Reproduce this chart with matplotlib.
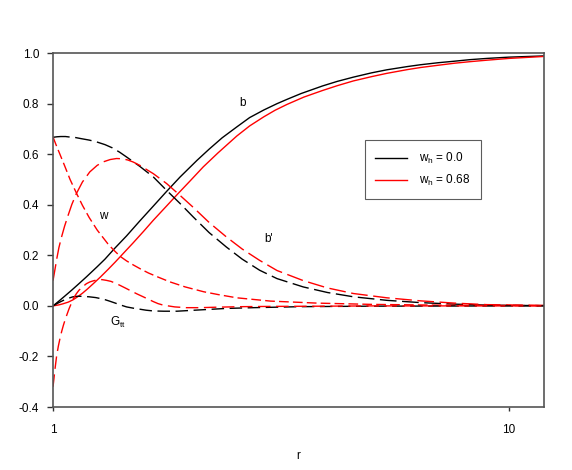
import matplotlib
matplotlib.use('Agg')
import matplotlib.pyplot as plt
from matplotlib.ticker import FixedLocator, NullLocator, FixedFormatter

plt.rcParams['font.family'] = ['Liberation Sans', 'DejaVu Sans']
plt.rcParams['font.size'] = 8.5

# b (solid)
r_b0 = [1, 1.03, 1.06, 1.1, 1.14, 1.184, 1.25, 1.3, 1.366, 1.45, 1.55, 1.66, 1.775, 1.9, 2.07, 2.2,
        2.35, 2.53, 2.7, 2.9, 3.1, 3.26, 3.5, 3.9, 4.2, 4.56, 5.0, 5.4, 6.0, 6.4, 7.0, 7.6, 8.2, 8.95, 10, 12]
b0 = [0, 0.019, 0.038, 0.063, 0.088, 0.115, 0.155, 0.185, 0.228, 0.277, 0.336, 0.395, 0.453, 0.51, 0.576,
      0.62, 0.665, 0.708, 0.745, 0.775, 0.80, 0.817, 0.84, 0.87, 0.888, 0.905, 0.922, 0.934, 0.947, 0.954,
      0.962, 0.968, 0.974, 0.979, 0.984, 0.989]
r_b1 = [1, 1.03, 1.05, 1.08, 1.106, 1.13, 1.16, 1.19, 1.224, 1.27, 1.32, 1.37, 1.425, 1.5, 1.58, 1.66,
        1.77, 1.88, 2.0, 2.136, 2.3, 2.53, 2.7, 2.9, 3.07, 3.26, 3.55, 3.9, 4.2, 4.56, 5.0, 5.4, 6.0, 6.4,
        7.0, 7.6, 8.2, 8.95, 10, 12]
b1 = [0, 0.004, 0.008, 0.015, 0.024, 0.035, 0.05, 0.067, 0.087, 0.114, 0.144, 0.174, 0.207, 0.25, 0.295,
      0.339, 0.393, 0.444, 0.495, 0.55, 0.605, 0.672, 0.712, 0.748, 0.774, 0.797, 0.826, 0.852, 0.871,
      0.89, 0.907, 0.92, 0.935, 0.943, 0.952, 0.96, 0.966, 0.972, 0.979, 0.987]

# b' (long dash)
r_db0 = [1, 1.02, 1.04, 1.065, 1.088, 1.12, 1.15, 1.2, 1.245, 1.3, 1.35, 1.4, 1.45, 1.55, 1.66, 1.775,
         1.9, 2.03, 2.2, 2.4, 2.6, 2.84, 3.1, 3.54, 4.0, 4.56, 5.4, 6.4, 7.6, 9, 12]
db0 = [0.667, 0.669, 0.67, 0.67, 0.668, 0.666, 0.662, 0.656, 0.649, 0.638, 0.625, 0.608, 0.589, 0.552,
       0.51, 0.457, 0.405, 0.352, 0.29, 0.233, 0.185, 0.141, 0.108, 0.075, 0.053, 0.036, 0.022, 0.013,
       0.007, 0.003, 0.001]
r_db1 = [1, 1.01, 1.02, 1.03, 1.043, 1.06, 1.08, 1.1, 1.125, 1.16, 1.204, 1.25, 1.29, 1.335, 1.378, 1.42,
         1.46, 1.5, 1.55, 1.66, 1.775, 1.9, 2.03, 2.2, 2.4, 2.6, 2.84, 3.1, 3.54, 4.0, 4.56, 5.4, 6.4, 7.6,
         8.95, 12]
db1 = [0.10, 0.145, 0.19, 0.23, 0.27, 0.315, 0.36, 0.402, 0.444, 0.49, 0.53, 0.556, 0.57, 0.579, 0.583,
       0.582, 0.577, 0.569, 0.556, 0.523, 0.484, 0.437, 0.39, 0.33, 0.273, 0.225, 0.18, 0.14, 0.10, 0.071,
       0.049, 0.032, 0.02, 0.011, 0.005, 0.002]

# w (dashed, only w_h = 0.68)
r_w1 = [1, 1.015, 1.03, 1.06, 1.09, 1.127, 1.16, 1.2, 1.25, 1.32, 1.36, 1.406, 1.45, 1.5, 1.56, 1.62,
        1.7, 1.805, 1.95, 2.14, 2.3, 2.53, 3.0, 3.8, 5, 7, 12]
w1 = [0.668, 0.638, 0.61, 0.555, 0.50, 0.444, 0.398, 0.35, 0.30, 0.245, 0.22, 0.195, 0.178, 0.162,
      0.145, 0.13, 0.114, 0.095, 0.075, 0.056, 0.045, 0.032, 0.019, 0.011, 0.006, 0.003, 0.001]

# G_tt (dashed)
r_g0 = [1, 1.02, 1.04, 1.06, 1.08, 1.106, 1.13, 1.15, 1.175, 1.2, 1.24, 1.288, 1.33, 1.37, 1.41, 1.45,
        1.5, 1.55, 1.6, 1.66, 1.75, 1.87, 2.0, 2.14, 2.4, 2.75, 3.5, 5, 12]
g0 = [0, 0.009, 0.017, 0.024, 0.03, 0.036, 0.038, 0.038, 0.037, 0.036, 0.033, 0.027, 0.019, 0.011, 0.003,
      -0.004, -0.009, -0.013, -0.017, -0.02, -0.021, -0.021, -0.018, -0.015, -0.01, -0.007, -0.003,
      -0.001, 0]
r_g1 = [1, 1.005, 1.01, 1.018, 1.027, 1.036, 1.045, 1.054, 1.063, 1.074, 1.085, 1.097, 1.109, 1.125,
        1.14, 1.16, 1.184, 1.205, 1.23, 1.255, 1.28, 1.31, 1.34, 1.37, 1.40, 1.44, 1.48, 1.53, 1.577, 1.62,
        1.66, 1.7, 1.745, 1.85, 1.96, 2.1, 2.3, 2.6, 3, 4, 5, 12]
g1 = [-0.32, -0.285, -0.25, -0.2, -0.16, -0.128, -0.1, -0.076, -0.055, -0.032, -0.01, 0.01, 0.03, 0.048,
      0.062, 0.075, 0.088, 0.095, 0.1, 0.103, 0.104, 0.101, 0.097, 0.09, 0.082, 0.071, 0.06, 0.047, 0.036,
      0.026, 0.017, 0.009, 0.003, -0.004, -0.007, -0.007, -0.005, -0.003, -0.002, -0.001, 0, 0]

fig = plt.figure(figsize=(5.72, 4.70), dpi=100)
ax = fig.add_axes([0.0927, 0.134, 0.951 - 0.0927, 0.887 - 0.134])

long_dash = (0, (12, 4))
mid_dash = (0, (7, 3))
g_dash = (0, (9, 4))

ax.plot(r_b0, b0, color='black', lw=1.0, label='w$_\\mathregular{h}$ = 0.0')
ax.plot(r_b1, b1, color='red', lw=1.0, label='w$_\\mathregular{h}$ = 0.68')
ax.plot(r_db0, db0, color='black', lw=1.0, linestyle=long_dash)
ax.plot(r_db1, db1, color='red', lw=1.0, linestyle=long_dash)
ax.plot(r_w1, w1, color='red', lw=1.0, linestyle=mid_dash)
ax.plot(r_g0, g0, color='black', lw=1.0, linestyle=g_dash)
ax.plot(r_g1, g1, color='red', lw=1.0, linestyle=g_dash)

ax.set_xscale('log')
ax.set_xlim(1, 11.94)
ax.set_ylim(-0.4, 1.0)
ax.xaxis.set_major_locator(FixedLocator([1, 10]))
ax.xaxis.set_major_formatter(FixedFormatter(['1', '10']))
ax.xaxis.set_minor_locator(NullLocator())
ax.set_yticks([-0.4, -0.2, 0.0, 0.2, 0.4, 0.6, 0.8, 1.0])
ax.set_yticklabels(['-0.4', '-0.2', '0.0', '0.2', '0.4', '0.6', '0.8', '1.0'])
ax.tick_params(axis='x', direction='out', length=3, width=1, pad=9, colors='#333333', labelcolor='black')
ax.tick_params(axis='y', direction='out', length=4, width=1, pad=6, colors='#333333', labelcolor='black')
for s in ax.spines.values():
    s.set_color('#555555')
    s.set_linewidth(1.2)

ax.set_xlabel('r', labelpad=10)

ax.text(2.60, 0.803, 'b', ha='center', va='center')
ax.text(1.288, 0.356, 'w', ha='center', va='center')
ax.text(2.97, 0.266, "b'", ha='center', va='center')
ax.text(1.39, -0.067, 'G$_\\mathregular{tt}$', ha='center', va='center')

leg = ax.legend(loc='upper left', bbox_to_anchor=(0.635, 0.754), borderaxespad=0,
                fancybox=False, edgecolor='#333333', handlelength=2.7,
                borderpad=0.9, labelspacing=0.6, handletextpad=1.0)
leg.get_frame().set_linewidth(0.8)

fig.savefig('out.png', dpi=100)
